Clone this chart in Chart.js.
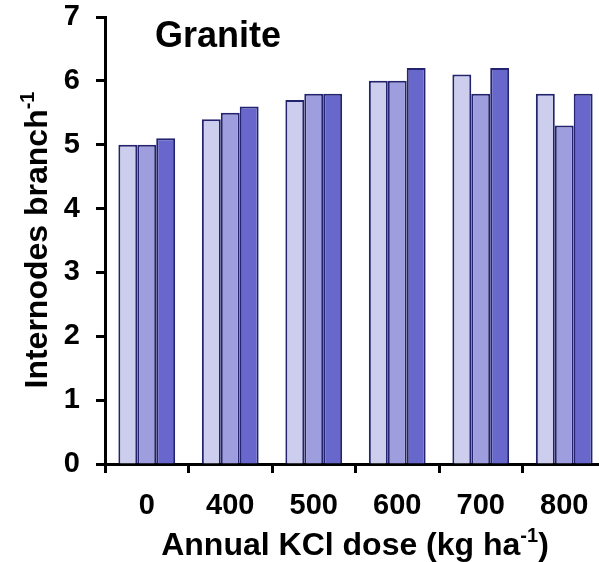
<!DOCTYPE html>
<html>
<head>
<meta charset="utf-8">
<script src="https://cdn.jsdelivr.net/npm/chart.js@4/dist/chart.umd.min.js"></script>
<style>
html,body{margin:0;padding:0;background:#fff;overflow:hidden;width:599px;height:562px;}
canvas{display:block;}
</style>
</head>
<body>
<canvas id="c" width="606" height="562"></canvas>
<script>
const categories = ["0", "400", "500", "600", "700", "800"];
const series1 = [5.0, 5.4, 5.7, 6.0, 6.1, 5.8];
const series2 = [5.0, 5.5, 5.8, 6.0, 5.8, 5.3];
const series3 = [5.1, 5.6, 5.8, 6.2, 6.2, 5.8];
const yTicks = [0, 1, 2, 3, 4, 5, 6, 7];
const chartTitle = "Granite";
const xTitle = ["Annual KCl dose (kg ha", "-1", ")"];
const yTitle = ["Internodes branch", "-1"];

const FONT = "'Liberation Sans', Arial, sans-serif";
const border = "#23236f";

const annot = {
  id: "annot",
  afterDraw(chart) {
    const ctx = chart.ctx;
    ctx.save();
    ctx.fillStyle = "#000";
    ctx.textBaseline = "alphabetic";
    // title
    ctx.font = "bold 36px " + FONT;
    ctx.textAlign = "left";
    ctx.fillText(chartTitle, 155, 47);
    // x title
    const big = "bold 32px " + FONT, small = "bold 20px " + FONT;
    ctx.font = big; const w0 = ctx.measureText(xTitle[0]).width;
    ctx.font = small; const w1 = ctx.measureText(xTitle[1]).width;
    ctx.font = big; const w2 = ctx.measureText(xTitle[2]).width;
    let x = 355 - (w0 + w1 + w2) / 2;
    const by = 555;
    ctx.font = big; ctx.fillText(xTitle[0], x, by); x += w0;
    ctx.font = small; ctx.fillText(xTitle[1], x, by - 13); x += w1;
    ctx.font = big; ctx.fillText(xTitle[2], x, by);
    // y title
    ctx.translate(47, 240);
    ctx.rotate(-Math.PI / 2);
    ctx.font = big; const v0 = ctx.measureText(yTitle[0]).width;
    ctx.font = small; const v1 = ctx.measureText(yTitle[1]).width;
    let s = -(v0 + v1) / 2;
    ctx.font = big; ctx.fillText(yTitle[0], s, 0); s += v0;
    ctx.font = small; ctx.fillText(yTitle[1], s, -13);
    ctx.restore();
  }
};

new Chart(document.getElementById("c"), {
  type: "bar",
  data: {
    labels: categories,
    datasets: [
      { data: series1, backgroundColor: "#cdcdee", borderColor: border, borderWidth: 2 },
      { data: series2, backgroundColor: "#9e9edf", borderColor: border, borderWidth: 2 },
      { data: series3, backgroundColor: "#6868cc", borderColor: border, borderWidth: 2 }
    ]
  },
  options: {
    responsive: false,
    animation: false,
    layout: { padding: { top: 17, left: 0, right: 0, bottom: 0 } },
    plugins: { legend: { display: false }, tooltip: { enabled: false }, title: { display: false } },
    datasets: { bar: { barPercentage: 1.0, categoryPercentage: 0.68, borderSkipped: "start" } },
    scales: {
      x: {
        offset: true,
        grid: { offset: true, drawOnChartArea: false, tickLength: 9, tickWidth: 3, tickColor: "#000" },
        border: { display: true, color: "#000", width: 3 },
        ticks: { color: "#000", font: { family: FONT, size: 29, weight: "bold" }, padding: 16, maxRotation: 0 },
        afterFit(scale) { scale.height = 98; scale.paddingLeft = 0; scale.paddingRight = 0; }
      },
      y: {
        min: 0, max: 7,
        afterBuildTicks(scale) { scale.ticks = yTicks.map(v => ({ value: v })); },
        grid: { drawOnChartArea: false, tickLength: 9, tickWidth: 3, tickColor: "#000" },
        border: { display: true, color: "#000", width: 3 },
        ticks: { color: "#000", font: { family: FONT, size: 29, weight: "bold" }, padding: 16 },
        afterFit(scale) { scale.width = 105; scale.paddingTop = 0; scale.paddingBottom = 0; }
      }
    }
  },
  plugins: [annot]
});
</script>
</body>
</html>
